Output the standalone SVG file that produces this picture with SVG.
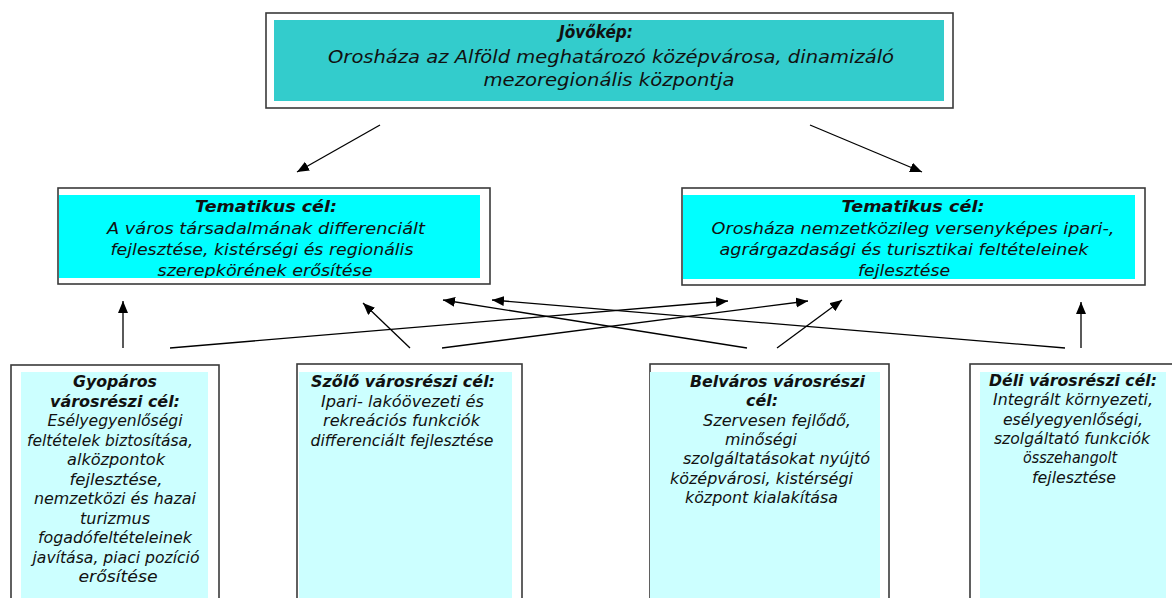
<svg xmlns="http://www.w3.org/2000/svg" width="1172" height="598" viewBox="0 0 1172 598">
<style>
.frame{fill:#fff;stroke:#3a3a3a;stroke-width:1.6}
.t{font-family:"DejaVu Sans","Liberation Sans",sans-serif;font-style:italic;fill:#111;text-anchor:middle}
.b{font-weight:bold}
.s{text-anchor:start}
.top{font-size:18.5px}
.mid{font-size:16.5px}
.low{font-size:15px}
.conn{stroke:#000;stroke-width:1.3;fill:none;marker-end:url(#ah)}
</style>
<defs>
<marker id="ah" markerUnits="userSpaceOnUse" markerWidth="13" markerHeight="11" refX="12" refY="5" orient="auto">
<path d="M0,0 L12,5 L0,10 z" fill="#000"/>
</marker>
<clipPath id="cl"><rect x="59" y="195" width="421" height="83"/></clipPath>
<clipPath id="cr"><rect x="683" y="195" width="452" height="84"/></clipPath>
</defs>
<rect width="1172" height="598" fill="#fff"/>

<g id="jovokep">
<rect class="frame" x="266" y="13" width="687" height="95"/>
<rect x="274" y="20" width="670" height="81" fill="#33CCCC"/>
<text class="t top b" x="596" y="38" textLength="74" lengthAdjust="spacingAndGlyphs">Jövőkép:</text>
<text class="t top" x="611" y="63" textLength="566" lengthAdjust="spacingAndGlyphs">Orosháza az Alföld meghatározó középvárosa, dinamizáló</text>
<text class="t top" x="609" y="86" textLength="251" lengthAdjust="spacingAndGlyphs">mezoregionális központja</text>
</g>

<g id="tematikus-bal">
<rect class="frame" x="58" y="188" width="432" height="96"/>
<rect x="59" y="195" width="421" height="83" fill="#00FFFF"/>
<g clip-path="url(#cl)">
<text class="t mid b" x="266" y="212" textLength="142" lengthAdjust="spacingAndGlyphs">Tematikus cél:</text>
<text class="t mid" x="266" y="234" textLength="318" lengthAdjust="spacingAndGlyphs">A város társadalmának differenciált</text>
<text class="t mid" x="262" y="255" textLength="303" lengthAdjust="spacingAndGlyphs">fejlesztése, kistérségi és regionális</text>
<text class="t mid" x="265" y="276" textLength="215" lengthAdjust="spacingAndGlyphs">szerepkörének erősítése</text>
</g>
</g>

<g id="tematikus-jobb">
<rect class="frame" x="682" y="188" width="463" height="97"/>
<rect x="683" y="195" width="452" height="84" fill="#00FFFF"/>
<g clip-path="url(#cr)">
<text class="t mid b" x="913" y="212" textLength="143" lengthAdjust="spacingAndGlyphs">Tematikus cél:</text>
<text class="t mid" x="913" y="234" textLength="403" lengthAdjust="spacingAndGlyphs">Orosháza nemzetközileg versenyképes ipari-,</text>
<text class="t mid" x="904" y="255" textLength="369" lengthAdjust="spacingAndGlyphs">agrárgazdasági és turisztikai feltételeinek</text>
<text class="t mid" x="904" y="276" textLength="92" lengthAdjust="spacingAndGlyphs">fejlesztése</text>
</g>
</g>

<g id="gyoparos">
<rect class="frame" x="11" y="365" width="208" height="250"/>
<rect x="21" y="372" width="187" height="240" fill="#CCFFFF"/>
<text class="t low b" x="115" y="387" textLength="84" lengthAdjust="spacingAndGlyphs">Gyopáros</text>
<text class="t low b" x="115" y="406.5" textLength="130" lengthAdjust="spacingAndGlyphs">városrészi cél:</text>
<text class="t low" x="115" y="426" textLength="135" lengthAdjust="spacingAndGlyphs">Esélyegyenlőségi</text>
<text class="t low" x="110" y="445.5" textLength="166" lengthAdjust="spacingAndGlyphs">feltételek biztosítása,</text>
<text class="t low" x="116" y="465" textLength="98" lengthAdjust="spacingAndGlyphs">alközpontok</text>
<text class="t low" x="116" y="484.5" textLength="93" lengthAdjust="spacingAndGlyphs">fejlesztése,</text>
<text class="t low" x="115" y="504" textLength="162" lengthAdjust="spacingAndGlyphs">nemzetközi és hazai</text>
<text class="t low" x="115" y="523.5" textLength="70" lengthAdjust="spacingAndGlyphs">turizmus</text>
<text class="t low" x="115" y="543" textLength="154" lengthAdjust="spacingAndGlyphs">fogadófeltételeinek</text>
<text class="t low" x="116" y="562.5" textLength="167" lengthAdjust="spacingAndGlyphs">javítása, piaci pozíció</text>
<text class="t low" x="118" y="582" textLength="79" lengthAdjust="spacingAndGlyphs">erősítése</text>
</g>

<g id="szolo">
<rect class="frame" x="297" y="364" width="225" height="250"/>
<rect x="299" y="372" width="213" height="240" fill="#CCFFFF"/>
<text class="t low b" x="403" y="387" textLength="184" lengthAdjust="spacingAndGlyphs">Szőlő városrészi cél:</text>
<text class="t low" x="402.5" y="406.5" textLength="163" lengthAdjust="spacingAndGlyphs">Ipari- lakóövezeti és</text>
<text class="t low" x="401.5" y="426" textLength="157" lengthAdjust="spacingAndGlyphs">rekreációs funkciók</text>
<text class="t low" x="402" y="445.5" textLength="183" lengthAdjust="spacingAndGlyphs">differenciált fejlesztése</text>
</g>

<g id="belvaros">
<rect class="frame" x="650" y="364" width="239" height="250"/>
<rect x="650" y="372" width="230" height="240" fill="#CCFFFF"/>
<text class="t low b s" x="690" y="387" textLength="175" lengthAdjust="spacingAndGlyphs">Belváros városrészi</text>
<text class="t low b s" x="746" y="406.3" textLength="32" lengthAdjust="spacingAndGlyphs">cél:</text>
<text class="t low s" x="703" y="425.6" textLength="148" lengthAdjust="spacingAndGlyphs">Szervesen fejlődő,</text>
<text class="t low s" x="725" y="445" textLength="72" lengthAdjust="spacingAndGlyphs">minőségi</text>
<text class="t low s" x="683" y="464.3" textLength="187" lengthAdjust="spacingAndGlyphs">szolgáltatásokat nyújtó</text>
<text class="t low s" x="670" y="483.6" textLength="183" lengthAdjust="spacingAndGlyphs">középvárosi, kistérségi</text>
<text class="t low s" x="685" y="503" textLength="153" lengthAdjust="spacingAndGlyphs">központ kialakítása</text>
</g>

<g id="deli">
<rect class="frame" x="970" y="364" width="206" height="250"/>
<rect x="980" y="372" width="186" height="240" fill="#CCFFFF"/>
<text class="t low b" x="1073" y="386" textLength="168" lengthAdjust="spacingAndGlyphs">Déli városrészi cél:</text>
<text class="t low" x="1073" y="405.3" textLength="160" lengthAdjust="spacingAndGlyphs">Integrált környezeti,</text>
<text class="t low" x="1073" y="424.6" textLength="140" lengthAdjust="spacingAndGlyphs">esélyegyenlőségi,</text>
<text class="t low" x="1072" y="444" textLength="156" lengthAdjust="spacingAndGlyphs">szolgáltató funkciók</text>
<text class="t low" x="1070" y="463.3" textLength="94" lengthAdjust="spacingAndGlyphs">összehangolt</text>
<text class="t low" x="1074" y="482.6" textLength="84" lengthAdjust="spacingAndGlyphs">fejlesztése</text>
</g>

<g id="connectors">
<line class="conn" x1="380" y1="125" x2="297" y2="172"/>
<line class="conn" x1="810" y1="125" x2="922" y2="172"/>
<line class="conn" x1="123" y1="348" x2="123" y2="301"/>
<line class="conn" x1="170" y1="348" x2="728" y2="301"/>
<line class="conn" x1="410" y1="348" x2="363" y2="303"/>
<line class="conn" x1="442" y1="348" x2="808" y2="301"/>
<line class="conn" x1="747" y1="348" x2="443" y2="300"/>
<line class="conn" x1="777" y1="348" x2="842" y2="300"/>
<line class="conn" x1="1065" y1="348" x2="492" y2="300"/>
<line class="conn" x1="1081" y1="348" x2="1081" y2="302"/>
</g>
</svg>
